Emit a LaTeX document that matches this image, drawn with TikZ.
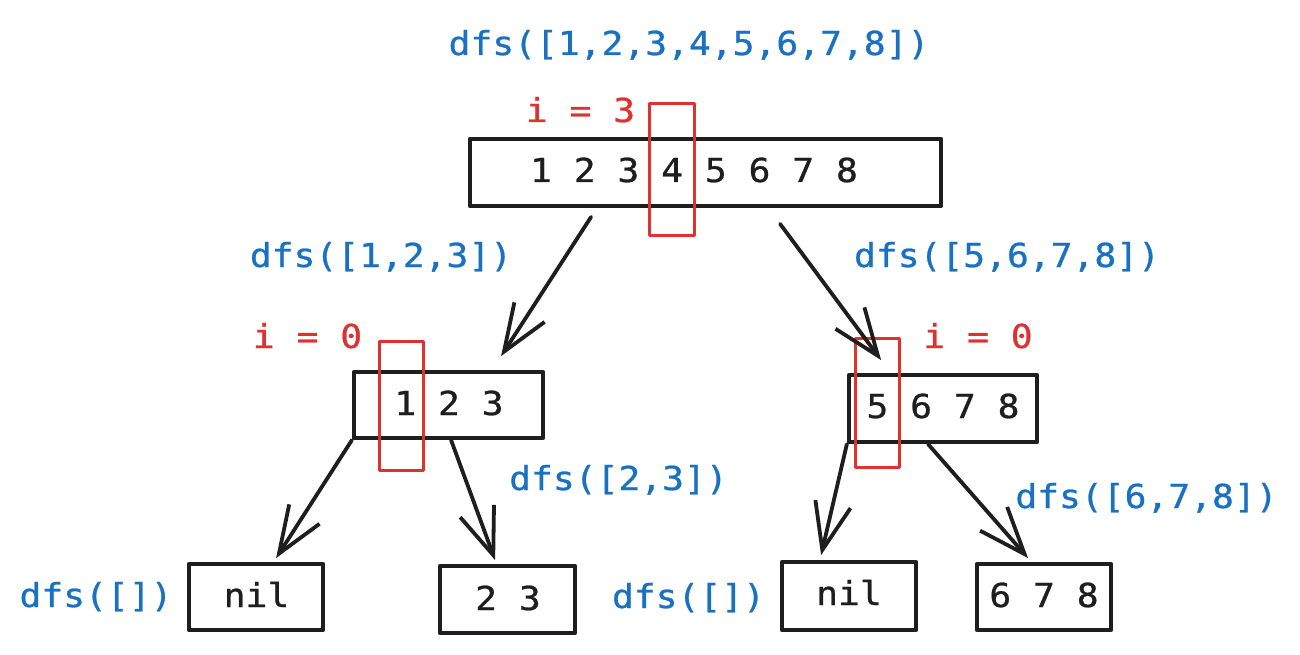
\documentclass[tikz,border=0pt]{standalone}
\usepackage{fontspec}
\newfontfamily\monofont[FakeStretch=1.1,FakeBold=0.8]{DejaVu Sans Mono}
\usetikzlibrary{arrows.meta,calc}
\definecolor{exblue}{HTML}{1971C2}
\definecolor{exred}{HTML}{E03131}
\definecolor{exblack}{HTML}{1E1E1E}
\begin{document}
\begin{tikzpicture}[x=1pt,y=-1pt,
  lbl/.style={inner sep=0pt, anchor=base, font=\monofont\fontsize{33}{36}\selectfont},
  bluelbl/.style={lbl, text=exblue},
  redlbl/.style={lbl, text=exred},
  numlbl/.style={lbl, text=exblack},
  box/.style={draw=exblack, line width=3.8pt, rectangle, inner sep=0pt, line join=round},
  redbox/.style={draw=exred, line width=3.2pt, rectangle, inner sep=0pt, line join=round},
  arr/.style={draw=exblack, line width=3.8pt, line cap=round, line join=round,
    -{Straight Barb[length=47pt,width=36pt,line width=3.8pt]}}
]
\useasboundingbox (0,0) rectangle (1300,655);
\fill[white] (0,0) rectangle (1300,655);

% boxes
\node[box, minimum width=471.5pt, minimum height=67.5pt] (top) at (705.5,172.5) {};
\node[box, minimum width=189.5pt, minimum height=66.5pt] (m1) at (448.5,405) {};
\node[box, minimum width=188.5pt, minimum height=67.5pt] (m2) at (943,408.5) {};
\node[box, minimum width=134.5pt, minimum height=66.5pt] (b1) at (256,597) {};
\node[box, minimum width=135.5pt, minimum height=67.5pt] (b2) at (507.5,599.5) {};
\node[box, minimum width=134.5pt, minimum height=68.5pt] (b3) at (849,596) {};
\node[box, minimum width=134.5pt, minimum height=66.5pt] (b4) at (1044,597) {};

% texts
\node[bluelbl] (t0) at (689,55) {dfs([1,2,3,4,5,6,7,8])};
\node[redlbl] (i0) at (580.5,122) {i = 3};
\node[numlbl] (n0) at (694,182) {1 2 3 4 5 6 7 8};
\node[bluelbl] (t1) at (381,267) {dfs([1,2,3])};
\node[bluelbl] (t2) at (1007,267) {dfs([5,6,7,8])};
\node[redlbl] (i1) at (307.5,348) {i = 0};
\node[redlbl] (i2) at (978,348) {i = 0};
\node[numlbl] (n1) at (449,415) {1 2 3};
\node[numlbl] (n2) at (943,418) {5 6 7 8};
\node[bluelbl] (t3) at (618.5,490) {dfs([2,3])};
\node[bluelbl] (t4) at (1146.5,508) {dfs([6,7,8])};
\node[bluelbl] (t5) at (96,607) {dfs([])};
\node[bluelbl] (t6) at (688.5,608) {dfs([])};
\node[numlbl] (n3) at (256.5,607) {nil};
\node[numlbl] (n4) at (508,610) {2 3};
\node[numlbl] (n5) at (849,605) {nil};
\node[numlbl] (n6) at (1044,607) {6 7 8};

% red index boxes
\node[redbox, minimum width=45pt, minimum height=132pt] (rt) at (672,169.5) {};
\node[redbox, minimum width=44pt, minimum height=129pt] (r1) at (401.5,406) {};
\node[redbox, minimum width=44pt, minimum height=129pt] (r2) at (877.5,403) {};

% arrows
\draw[arr] ([xshift=123.25pt,yshift=-8.75pt]top.south west) -- ([xshift=149.25pt,yshift=13.75pt]m1.north west);
\draw[arr] ([xshift=312.25pt,yshift=-15.75pt]top.south west) -- ([xshift=34.25pt,yshift=12.75pt]m2.north west);
\draw[arr] (m1.south west) -- ([xshift=89.25pt,yshift=3.75pt]b1.north west);
\draw[arr] ([xshift=99.25pt]m1.south west) -- ([xshift=57.25pt,yshift=3.75pt]b2.north west);
\draw[arr] (m2.south west) -- ([xshift=41.25pt,yshift=4.75pt]b3.north west);
\draw[arr] ([xshift=81.25pt]m2.south west) -- ([xshift=53.25pt,yshift=3.75pt]b4.north west);
\end{tikzpicture}
\end{document}
